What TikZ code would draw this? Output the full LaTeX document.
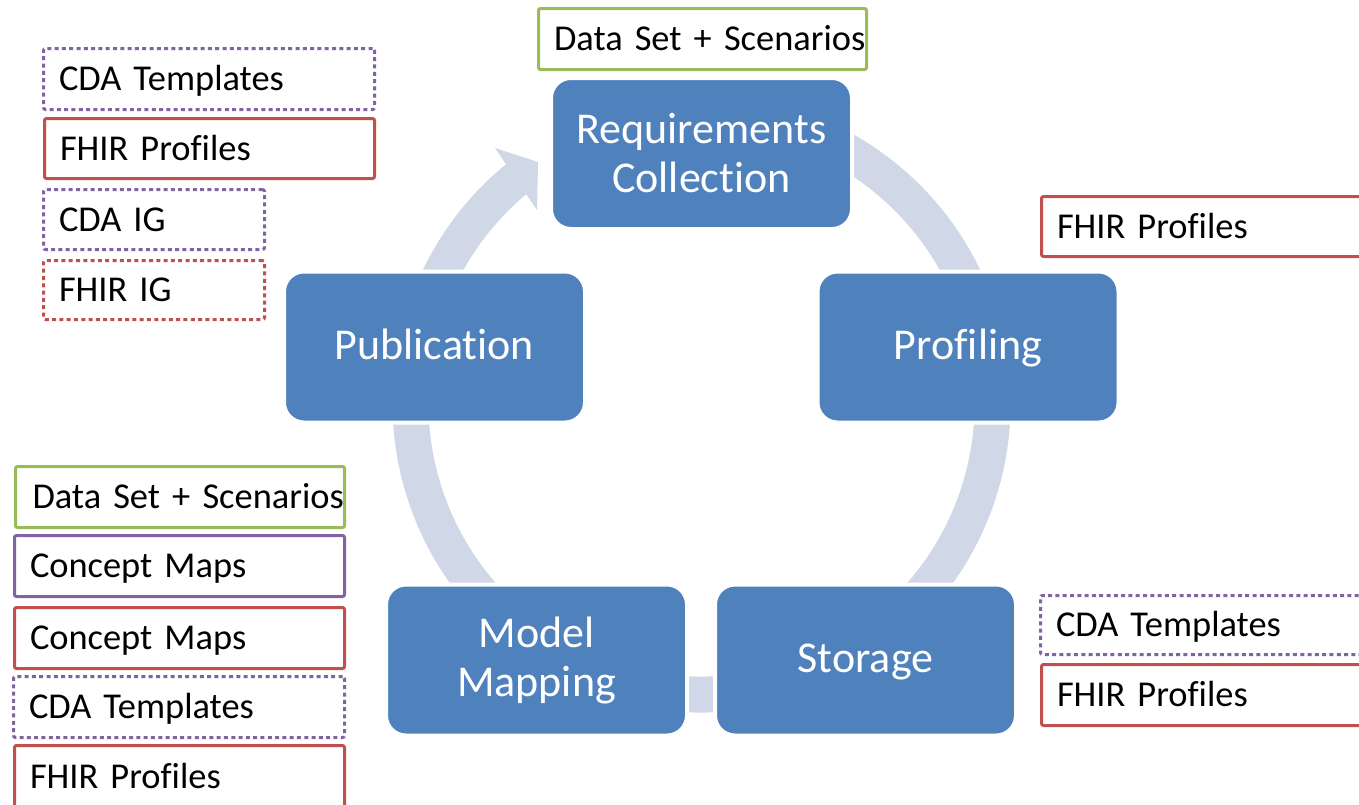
\documentclass[tikz,border=0pt]{standalone}
\usepackage{fontspec}
\setmainfont{Carlito}[Ligatures={NoCommon}]
\definecolor{nodeblue}{HTML}{4F81BD}
\definecolor{ringblue}{HTML}{D0D8E8}
\definecolor{tagred}{HTML}{C0504D}
\definecolor{tagpurple}{HTML}{8064A2}
\definecolor{taggreen}{HTML}{9BBB59}
\begin{document}
\begin{tikzpicture}[x=1pt,y=-1pt,
  stage/.style={rectangle, rounded corners=20pt, fill=nodeblue, draw=white,
    line width=4pt, minimum width=301pt, minimum height=151pt, text=white,
    align=center, font=\fontsize{44}{49}\selectfont, inner sep=0pt},
  oneline/.style={text height=25pt, text depth=0pt},
  tag/.style={rectangle, anchor=north west, line width=3pt, rounded corners=2pt,
    minimum height=60pt, inner xsep=15.5pt, inner ysep=0pt, text height=23.4pt,
    text depth=0pt, align=left, font=\fontsize{36.4}{40}\selectfont, text=black},
  solidtag/.style={tag, draw=#1},
  dottag/.style={tag, draw=#1, dash pattern=on 4pt off 3.3pt},
]
\useasboundingbox (0,0) rectangle (1359,804);
\fill[white] (0,0) rectangle (1359,804);
\clip (0,0) rectangle (1359,804);

% ring
\coordinate (ringc) at (701.5,403.5);
\draw[ringblue, line width=36pt] (ringc) ++(-100:291) arc[start angle=-100, end angle=232, radius=291];
\coordinate (tip) at (538,162);
\coordinate (wingout) at (495,148);
\coordinate (wingin) at (537,210);
\fill[ringblue] (tip) -- (wingout) -- (wingin) -- cycle;

% stages
\node[stage] (req) at (701.5,153.5) {Requirements\\Collection};
\node[stage, oneline] (prof) at (968,347) {Profiling};
\node[stage, oneline] (stor) at (865.5,660) {Storage};
\node[stage] (model) at (536.5,660) {Model\\Mapping};
\node[stage, oneline] (pub) at (434.5,347) {Publication};

% top-left tags
\node[dottag=tagpurple, text width=300pt, minimum height=61pt] (tl1) at (42,47) {CDA Templates};
\node[solidtag=tagred, text width=299pt] (tl2) at (43,117) {FHIR Profiles};
\node[dottag=tagpurple, text width=190pt] (tl3) at (42,188) {CDA IG};
\node[dottag=tagred, text width=190pt, minimum height=59pt] (tl4) at (42,259) {FHIR IG};

% top tag
\node[solidtag=taggreen, text width=297pt, minimum height=61pt] (top1) at (537,7) {\mbox{Data Set + Scenarios}};

% right tags
\node[solidtag=tagred, text width=333pt] (r1) at (1040,195) {FHIR Profiles};
\node[dottag=tagpurple, text width=333pt, minimum height=59pt] (r2) at (1039,594) {CDA Templates};
\node[solidtag=tagred, text width=333pt, minimum height=61pt] (r3) at (1040,663) {FHIR Profiles};

% bottom-left tags
\node[solidtag=taggreen, text width=298pt, minimum height=61pt] (bl1) at (14,465) {\mbox{\hspace{1.5pt}Data Set + Scenarios}};
\node[solidtag=tagpurple, text width=299pt, minimum height=61pt] (bl2) at (13,534) {Concept Maps};
\node[solidtag=tagred, text width=299pt, minimum height=61pt] (bl3) at (13,606) {Concept Maps};
\node[dottag=tagpurple, text width=300pt, minimum height=61pt] (bl4) at (12,675) {CDA Templates};
\node[solidtag=tagred, text width=299pt, minimum height=63pt] (bl5) at (13,744) {FHIR Profiles};
\end{tikzpicture}
\end{document}
